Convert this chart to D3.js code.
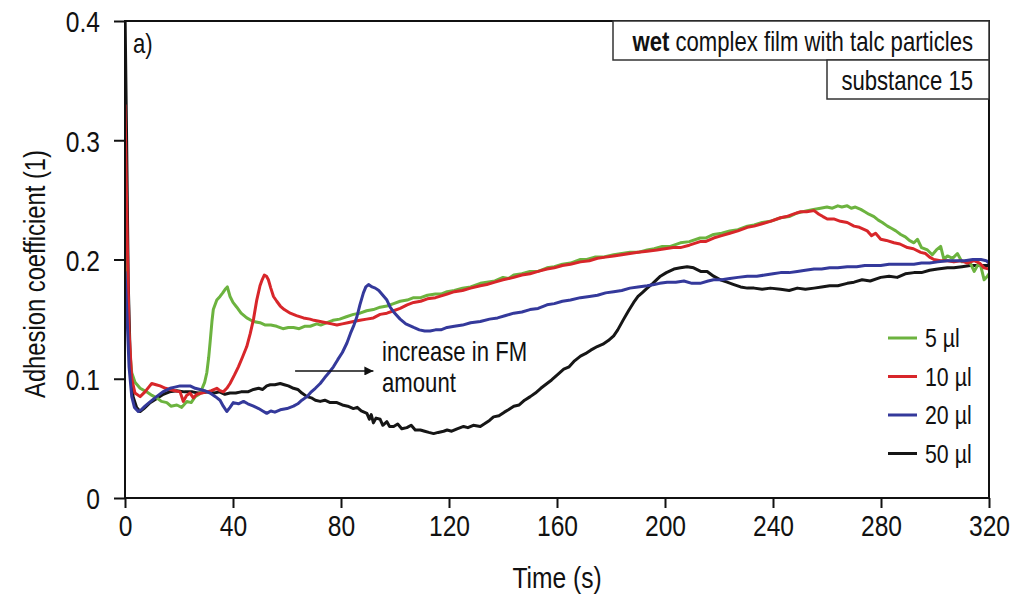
<!DOCTYPE html>
<html>
<head>
<meta charset="utf-8">
<script src="https://cdn.jsdelivr.net/npm/d3@7"></script>
<style>
  body { margin: 0; background: #fff; }
  svg text { font-family: "Liberation Sans Narrow", "Arial Narrow", "Liberation Sans", Arial, sans-serif; fill: #111; }
</style>
</head>
<body>
<svg id="chart" width="1017" height="596"></svg>
<script>
// values: [time (s), adhesion coefficient]
const green5 = [[0,0.25],[0.8,0.18],[1.5,0.13],[2.5,0.105],[3.7,0.097],[5.6,0.092],[8,0.089],[10,0.086],[11.7,0.084],[13.5,0.081],[15.5,0.080],[17,0.077],[19.2,0.078],[21,0.076],[22.9,0.081],[24.5,0.080],[26,0.085],[27.5,0.087],[28.4,0.091],[29.5,0.097],[30.3,0.105],[31,0.118],[31.5,0.130],[32.2,0.148],[32.7,0.158],[34,0.166],[35.2,0.169],[36.2,0.172],[37.1,0.175],[37.9,0.177],[38.9,0.169],[40,0.164],[41.4,0.160],[43,0.155],[45.1,0.151],[47.5,0.148],[50,0.147],[52,0.145],[54,0.145],[56.2,0.144],[58.5,0.142],[60.5,0.143],[62.4,0.143],[64.5,0.142],[66.5,0.144],[68.6,0.144],[71,0.146],[72.5,0.145],[74.8,0.147],[77,0.149],[79.5,0.150],[82,0.152],[84.6,0.154],[87,0.155],[89.5,0.157],[92,0.158],[94.5,0.160],[97,0.161],[99.5,0.163],[101.9,0.165],[104.5,0.166],[106.9,0.168],[109.5,0.168],[112,0.170],[115,0.171],[117,0.171],[119.3,0.173],[122,0.174],[125,0.176],[128,0.177],[131.6,0.180],[134,0.181],[137,0.182],[140,0.185],[142,0.184],[144,0.187],[147,0.188],[150,0.190],[153,0.190],[156.3,0.193],[159,0.194],[162,0.196],[165,0.197],[168.7,0.200],[171,0.200],[174,0.202],[177,0.202],[181,0.204],[184,0.205],[187,0.206],[190,0.206],[193.4,0.208],[196,0.209],[199,0.211],[202,0.211],[205.7,0.214],[209,0.215],[213,0.218],[215,0.218],[218,0.221],[221,0.222],[224,0.224],[227,0.225],[230.5,0.228],[233,0.229],[236,0.231],[239,0.232],[242.8,0.235],[246,0.236],[249,0.239],[252.7,0.241],[255,0.242],[257.6,0.243],[260,0.244],[262,0.243],[264,0.245],[265.5,0.244],[267.5,0.245],[269,0.243],[270.5,0.244],[272.5,0.242],[274,0.240],[275.5,0.238],[277.4,0.236],[279,0.233],[280.5,0.231],[282.4,0.228],[284,0.226],[285.5,0.224],[287.3,0.221],[289,0.219],[290.5,0.216],[292.2,0.214],[293.5,0.217],[295,0.210],[297.2,0.208],[299,0.204],[300.5,0.208],[302.1,0.211],[303.3,0.200],[304.6,0.203],[306.5,0.201],[308.3,0.205],[310,0.198],[312,0.199],[313.3,0.196],[314.5,0.190],[316,0.196],[317,0.194],[318.2,0.183],[319.4,0.186],[320,0.188]];

const red10 = [[0,0.33],[0.8,0.22],[1.5,0.14],[2.5,0.10],[3.7,0.088],[5.6,0.085],[7.4,0.089],[8.8,0.093],[9.9,0.096],[11.5,0.095],[13,0.094],[15,0.092],[16.7,0.091],[18.5,0.090],[20.4,0.089],[21.6,0.081],[22.8,0.086],[24.1,0.088],[25.3,0.084],[26.6,0.087],[28.4,0.088],[30.3,0.089],[32,0.090],[34,0.092],[35.2,0.090],[36.4,0.089],[37.7,0.092],[38.9,0.096],[40.5,0.103],[42,0.110],[43.5,0.118],[45.1,0.127],[46.4,0.138],[47.6,0.150],[48.8,0.166],[50,0.178],[50.8,0.183],[51.6,0.187],[52.4,0.186],[53.1,0.183],[54,0.176],[55,0.169],[56.2,0.165],[57.5,0.161],[59,0.158],[61.2,0.155],[63.5,0.153],[66.1,0.151],[68.5,0.150],[70,0.149],[72.3,0.148],[74.5,0.147],[76.5,0.146],[78.5,0.145],[80.5,0.146],[82.5,0.147],[84.6,0.148],[87,0.149],[89.5,0.150],[92,0.151],[94.5,0.154],[97,0.155],[99.5,0.157],[101.9,0.159],[104.5,0.162],[106.9,0.164],[109.5,0.165],[112,0.167],[115,0.168],[119.3,0.171],[122,0.173],[125,0.174],[128,0.176],[131.6,0.178],[134,0.179],[137,0.181],[140,0.183],[144,0.185],[147,0.187],[150,0.188],[153,0.190],[156.3,0.192],[159,0.193],[162,0.195],[165,0.196],[168.7,0.198],[172,0.199],[175,0.201],[178,0.202],[181,0.203],[184,0.204],[187,0.205],[190,0.206],[193.4,0.207],[197,0.208],[200,0.209],[203,0.210],[205.7,0.210],[209,0.212],[213,0.215],[215,0.215],[218,0.218],[221,0.220],[224,0.222],[227,0.224],[230.5,0.227],[233,0.228],[236,0.230],[239,0.232],[242.8,0.235],[245,0.236],[247.5,0.238],[250.2,0.240],[252.5,0.240],[255.2,0.241],[257,0.238],[258.5,0.236],[260.1,0.234],[262.5,0.234],[265,0.232],[267.5,0.231],[270,0.228],[272,0.227],[274.9,0.224],[276.5,0.220],[278,0.222],[279.9,0.217],[282,0.216],[284.8,0.214],[287,0.213],[289.8,0.210],[292,0.209],[294.7,0.206],[296.5,0.205],[298,0.202],[299.6,0.200],[302,0.199],[304.6,0.199],[307,0.198],[309.5,0.199],[312,0.197],[314.5,0.199],[316.5,0.197],[318.2,0.193],[320,0.192]];

const blue20 = [[0,0.19],[0.8,0.15],[1.5,0.11],[2.5,0.085],[3.5,0.076],[4.9,0.0725],[6,0.074],[7.4,0.077],[9.5,0.081],[11.7,0.085],[14,0.089],[16.7,0.092],[18.5,0.093],[20.4,0.094],[22,0.094],[24.1,0.094],[26,0.092],[27.8,0.091],[29.5,0.090],[31.5,0.088],[33.5,0.085],[35.2,0.082],[36.4,0.077],[37.7,0.0725],[38.9,0.076],[40.1,0.080],[42,0.079],[43.9,0.081],[45.5,0.079],[47.6,0.077],[49.5,0.075],[51,0.073],[52.5,0.071],[54,0.073],[55.5,0.072],[57.5,0.074],[60,0.075],[62.4,0.077],[64,0.079],[65.5,0.082],[67.4,0.085],[69,0.089],[70.5,0.092],[72.3,0.096],[74,0.101],[75.5,0.105],[77.2,0.110],[78.8,0.116],[80.5,0.122],[82.2,0.130],[83.5,0.138],[84.8,0.145],[85.9,0.152],[87,0.162],[88.3,0.172],[89.2,0.177],[90.2,0.179],[91.5,0.177],[92.7,0.176],[94,0.174],[95.5,0.170],[97,0.166],[98.2,0.160],[99.5,0.156],[101.9,0.150],[104,0.146],[106.9,0.143],[109,0.141],[111,0.140],[113,0.140],[115,0.141],[117,0.141],[119.3,0.143],[122,0.144],[125,0.145],[128,0.147],[131.6,0.148],[135,0.150],[138,0.151],[141,0.153],[144,0.155],[147,0.156],[150,0.158],[153,0.159],[156.3,0.162],[159,0.163],[162,0.165],[165,0.166],[168.7,0.168],[172,0.169],[175,0.170],[178,0.172],[181,0.173],[184,0.174],[187,0.176],[190,0.177],[193.4,0.178],[196,0.179],[198,0.180],[200.8,0.181],[204,0.181],[207,0.182],[210,0.180],[213,0.180],[216,0.182],[218,0.183],[221,0.183],[224,0.184],[227,0.185],[230.5,0.186],[234,0.186],[237,0.187],[240,0.188],[242.8,0.189],[246,0.189],[249,0.190],[252,0.191],[255.2,0.192],[258,0.192],[261,0.193],[264,0.193],[267.5,0.194],[271,0.194],[274,0.195],[277,0.195],[279.9,0.195],[283,0.196],[286,0.196],[289,0.196],[292.2,0.196],[295,0.197],[298,0.197],[301,0.198],[304.6,0.199],[308,0.199],[311,0.199],[314,0.200],[317,0.200],[319,0.199],[320,0.197]];

const black50 = [[0,0.41],[0.6,0.30],[1.2,0.18],[2,0.11],[3,0.085],[4.3,0.076],[5.6,0.0725],[7,0.075],[9.3,0.080],[11.5,0.083],[14.2,0.087],[16.5,0.089],[19.2,0.090],[22,0.089],[25,0.089],[27,0.088],[29,0.0885],[31,0.089],[33,0.088],[35,0.089],[37,0.087],[38.9,0.088],[41,0.088],[43,0.089],[45.5,0.089],[47.6,0.091],[49.5,0.092],[51,0.091],[52.5,0.094],[53.8,0.095],[55.5,0.095],[57.5,0.096],[59,0.095],[60.5,0.094],[62.4,0.092],[64,0.091],[65.5,0.088],[67.4,0.085],[69,0.084],[70.5,0.082],[72.3,0.081],[74,0.082],[76,0.080],[78.5,0.080],[80.5,0.078],[82.5,0.077],[84.6,0.075],[86,0.076],[87.5,0.073],[89.6,0.071],[90.5,0.066],[91.2,0.070],[92,0.063],[93,0.067],[94.5,0.066],[95.5,0.061],[97,0.064],[98,0.060],[99.5,0.060],[101,0.062],[102.5,0.058],[104.4,0.059],[106,0.061],[107.5,0.057],[109.4,0.057],[111,0.056],[112.5,0.055],[114.3,0.054],[116,0.055],[118,0.056],[119.3,0.057],[121,0.056],[123,0.058],[125.4,0.060],[127,0.059],[129,0.061],[131.6,0.060],[133,0.062],[135,0.065],[136.5,0.068],[138.5,0.069],[140.5,0.072],[142,0.074],[144,0.077],[146,0.078],[148,0.082],[150.1,0.085],[152,0.088],[154,0.092],[156.3,0.096],[158,0.099],[160,0.103],[162.5,0.108],[164.5,0.110],[166.5,0.115],[168.7,0.119],[170.5,0.121],[172.5,0.124],[174.9,0.127],[177,0.129],[179,0.132],[181,0.136],[182.5,0.141],[184.7,0.150],[186.5,0.157],[188.4,0.164],[190,0.169],[191.5,0.172],[193.4,0.176],[195.5,0.180],[198.3,0.186],[200.5,0.189],[203.3,0.192],[205.7,0.193],[208.2,0.194],[210.6,0.193],[213.2,0.190],[215.6,0.190],[218,0.186],[220.5,0.183],[223,0.181],[225.5,0.179],[228,0.177],[230.5,0.176],[233,0.176],[236,0.175],[239,0.176],[242.8,0.175],[246,0.174],[249,0.176],[252,0.175],[255.2,0.176],[258,0.177],[261,0.178],[264,0.178],[267.5,0.180],[270,0.181],[273,0.183],[276,0.182],[279.9,0.185],[283,0.186],[286,0.185],[289,0.188],[292.2,0.189],[295,0.189],[298,0.191],[301,0.192],[304.6,0.193],[307,0.193],[310,0.194],[313,0.195],[317,0.195],[320,0.195]];

const seriesNames = ["50 µl", "5 µl", "10 µl", "20 µl"];
const seriesColors = ["#161616", "#6cb33f", "#d8262a", "#34399b"];
const legendOrder = ["5 µl", "10 µl", "20 µl", "50 µl"];
const xTicks = [0, 40, 80, 120, 160, 200, 240, 280, 320];
const yTicks = [0, 0.1, 0.2, 0.3, 0.4];

const svg = d3.select("#chart");
const margin = {top: 21, right: 28, bottom: 98, left: 125};
const width = +svg.attr("width") - margin.left - margin.right;
const height = +svg.attr("height") - margin.top - margin.bottom;

const x = d3.scaleLinear().domain([0, 320]).range([0, width]);
const y = d3.scaleLinear().domain([0, 0.4]).range([height, 0]);

// the figure uses a condensed face; squeeze the regular one horizontally
function narrow(sel, sx = 0.82, extra = "") {
  sel.each(function() {
    const t = d3.select(this);
    const x0 = +t.attr("x") || 0, y0 = +t.attr("y") || 0;
    t.attr("x", 0).attr("y", 0)
      .attr("transform", `translate(${x0},${y0}) ${extra} scale(${sx},1)`);
  });
}

const g = svg.append("g").attr("transform", `translate(${margin.left},${margin.top})`);

g.append("clipPath").attr("id", "clip")
  .append("rect").attr("width", width).attr("height", height);

const line = d3.line().x(d => x(d[0])).y(d => y(d[1]));

const series = [black50, green5, red10, blue20];
g.append("g").attr("clip-path", "url(#clip)")
  .selectAll("path")
  .data(series)
  .join("path")
  .attr("d", line)
  .attr("fill", "none")
  .attr("stroke", (d, i) => seriesColors[i])
  .attr("stroke-width", 3)
  .attr("stroke-linejoin", "round");

// frame
g.append("rect")
  .attr("width", width).attr("height", height)
  .attr("fill", "none").attr("stroke", "#111").attr("stroke-width", 2);

const yAxis = g.append("g")
  .call(d3.axisLeft(y).tickValues(yTicks).tickSize(11).tickPadding(14)
    .tickFormat(d => d === 0 ? "0" : d3.format(".1f")(d)));
yAxis.select(".domain").remove();
yAxis.selectAll("line").attr("stroke", "#111").attr("stroke-width", 2);
yAxis.selectAll("text").style("font-size", "30px").attr("dy", "0.36em").call(narrow);

const xAxis = g.append("g").attr("transform", `translate(0,${height})`)
  .call(d3.axisBottom(x).tickValues(xTicks).tickSize(10).tickPadding(7));
xAxis.select(".domain").remove();
xAxis.selectAll("line").attr("stroke", "#111").attr("stroke-width", 2);
xAxis.selectAll("text").style("font-size", "30px").call(narrow);

svg.append("text")
  .attr("x", margin.left + width / 2).attr("y", 588)
  .attr("text-anchor", "middle")
  .style("font-size", "30px")
  .text("Time (s)")
  .call(narrow);

svg.append("text")
  .attr("x", 45).attr("y", 274)
  .attr("text-anchor", "middle")
  .style("font-size", "29px")
  .text("Adhesion coefficient (1)")
  .call(narrow, 0.82, "rotate(-90)");

g.append("text")
  .attr("x", 8).attr("y", 32)
  .style("font-size", "27px")
  .text("a)")
  .call(narrow);

// info boxes at top right
g.append("rect").attr("x", 488).attr("y", 0).attr("width", width - 488).attr("height", 39)
  .attr("fill", "#fff").attr("stroke", "#333").attr("stroke-width", 1.5);
const t1 = g.append("text").attr("x", width - 16).attr("y", 30)
  .attr("text-anchor", "end").style("font-size", "27px");
t1.append("tspan").style("font-weight", "bold").text("wet");
t1.append("tspan").text(" complex film with talc particles");
t1.call(narrow);

g.append("rect").attr("x", 702).attr("y", 39).attr("width", width - 702).attr("height", 39)
  .attr("fill", "#fff").attr("stroke", "#333").attr("stroke-width", 1.5);
g.append("text").attr("x", width - 16).attr("y", 69)
  .attr("text-anchor", "end").style("font-size", "27px")
  .text("substance 15")
  .call(narrow);

// legend
const legend = g.append("g").attr("transform", "translate(763,317)");
legendOrder.forEach((name, i) => {
  const c = seriesColors[seriesNames.indexOf(name)];
  const row = legend.append("g").attr("transform", `translate(0,${i * 38.5})`);
  row.append("line").attr("x1", 0).attr("x2", 29).attr("y1", 0).attr("y2", 0)
    .attr("stroke", c).attr("stroke-width", 3);
  row.append("text").attr("x", 37).attr("dy", "0.35em")
    .style("font-size", "26px").text(name)
    .call(narrow);
});

// annotation arrow
svg.append("defs").append("marker")
  .attr("id", "arrow").attr("viewBox", "0 0 10 10")
  .attr("refX", 10).attr("refY", 5)
  .attr("markerWidth", 13).attr("markerHeight", 9)
  .attr("markerUnits", "userSpaceOnUse").attr("orient", "auto")
  .append("path").attr("d", "M0,0 L10,5 L0,10 z").attr("fill", "#111");

g.append("line")
  .attr("x1", x(63)).attr("x2", x(92))
  .attr("y1", y(0.1065)).attr("y2", y(0.1065))
  .attr("stroke", "#111").attr("stroke-width", 1.5)
  .attr("marker-end", "url(#arrow)");

g.append("text").attr("x", x(95.2)).attr("y", y(0.1145))
  .style("font-size", "27px").text("increase in FM").call(narrow);
g.append("text").attr("x", x(95.2)).attr("y", y(0.1145) + 31)
  .style("font-size", "27px").text("amount").call(narrow);
</script>
</body>
</html>
